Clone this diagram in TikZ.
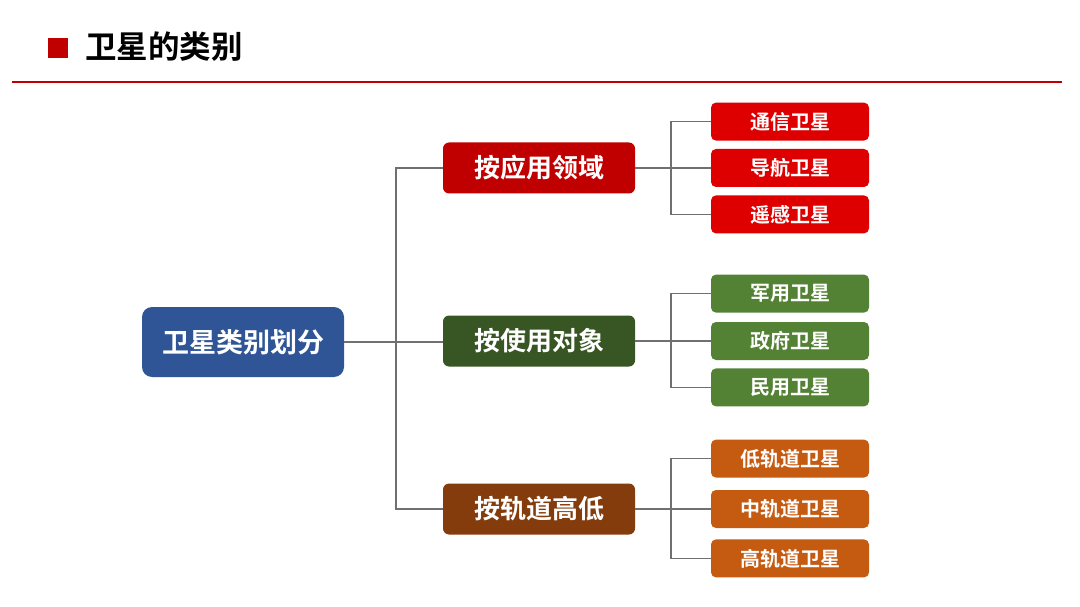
\documentclass[tikz,border=0pt]{standalone}
\usepackage{fontspec}
\setmainfont{Noto Sans CJK SC}[BoldFont={Noto Sans CJK SC Bold}]
\usetikzlibrary{positioning}
\definecolor{satRed}{HTML}{C00000}
\definecolor{satBlue}{HTML}{2F5597}
\definecolor{satGreen}{HTML}{375623}
\definecolor{satBrown}{HTML}{843C0C}
\definecolor{leafRed}{HTML}{DE0000}
\definecolor{leafGreen}{HTML}{548235}
\definecolor{leafOrange}{HTML}{C55A11}
\definecolor{lineGray}{HTML}{707070}

\begin{document}
\begin{tikzpicture}[x=1pt, y=-1pt,
    root/.style={rectangle, rounded corners=10pt, minimum width=202pt,
                 minimum height=70pt, align=center, fill=satBlue,
                 font=\fontsize{27}{30}\selectfont\bfseries\color{white}},
    group/.style={rectangle, rounded corners=6pt, minimum width=192pt,
                  minimum height=51pt, align=center,
                  font=\fontsize{26}{30}\selectfont\bfseries\color{white}},
    leaf/.style={rectangle, rounded corners=5pt, minimum width=158pt,
                 minimum height=38pt, align=center,
                 font=\fontsize{20}{24}\selectfont\bfseries\color{white}},
    link/.style={lineGray, line width=1.6pt},
  ]
    \useasboundingbox (0,0) rectangle (1080,607);

    % Title
    \fill[satRed] (48,38) rectangle (68,58);
    \node[anchor=west, inner sep=0pt, font=\fontsize{31.5}{36}\selectfont\bfseries]
      (title) at (85,47) {卫星的类别};
    \draw[satRed, line width=2pt] (12,82) -- (1062,82);

    % Root
    \node[root] (root) at (243,342) {卫星类别划分};

    % Groups
    \node[group, fill=satRed] (g1) at (539,168) {按应用领域};
    \node[group, fill=satGreen] (g2) at (539,341) {按使用对象};
    \node[group, fill=satBrown] (g3) at (539,509) {按轨道高低};

    % Leaves: application
    \node[leaf, fill=leafRed] (a2) at (790,168) {导航卫星};
    \node[leaf, fill=leafRed, above=8pt of a2] (a1) {通信卫星};
    \node[leaf, fill=leafRed, below=8pt of a2] (a3) {遥感卫星};

    % Leaves: user
    \node[leaf, fill=leafGreen] (b2) at (790,341) {政府卫星};
    \node[leaf, fill=leafGreen, above=9pt of b2] (b1) {军用卫星};
    \node[leaf, fill=leafGreen, below=8pt of b2] (b3) {民用卫星};

    % Leaves: orbit
    \node[leaf, fill=leafOrange] (c2) at (790,509) {中轨道卫星};
    \node[leaf, fill=leafOrange, above=12pt of c2] (c1) {低轨道卫星};
    \node[leaf, fill=leafOrange, below=11pt of c2] (c3) {高轨道卫星};

    % Trunk
    \coordinate (trunk) at (396,342);
    \draw[link] (root.east) -- (trunk) -- (g2.west |- trunk);
    \draw[link] (g1.west) -| (trunk) |- (g3.west);

    % Branches
    \foreach \g/\p in {g1/a, g2/b, g3/c} {
      \coordinate (\g fork) at (671,0 |- \g.east);
      \draw[link] (\g.east) -- (\p2.west);
      \draw[link] (\p1.west) -| (\g fork) |- (\p3.west);
    }
\end{tikzpicture}
\end{document}
